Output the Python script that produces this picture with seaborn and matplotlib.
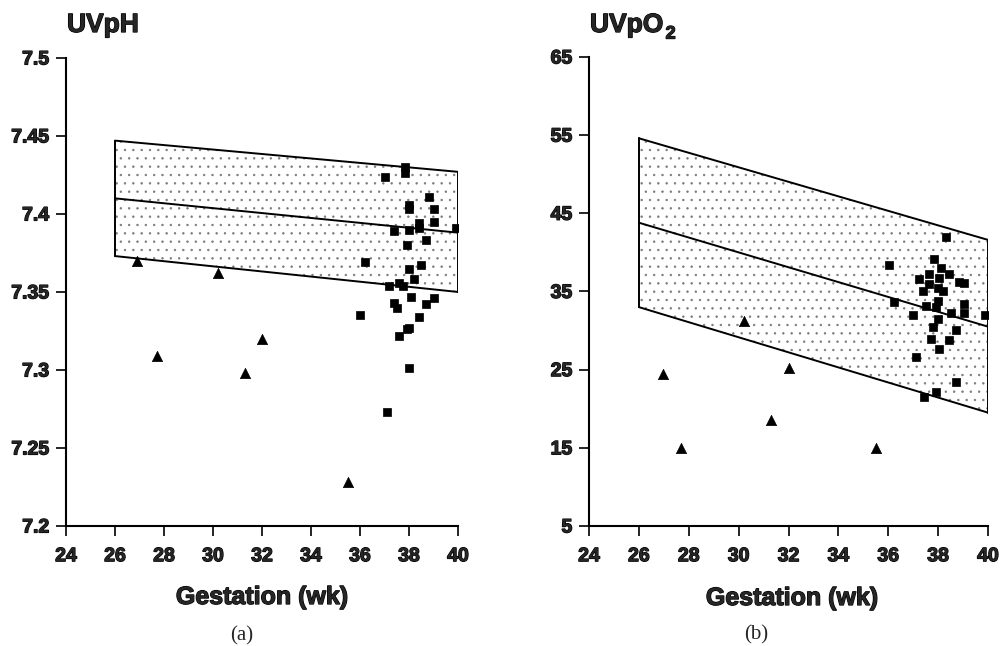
import numpy as np
import pandas as pd
import matplotlib
matplotlib.use("Agg")
import matplotlib.pyplot as plt
import matplotlib.patheffects as pe
import seaborn as sns

# ---------------- data ----------------
# Panel (a): umbilical venous pH
ph_sq_x = [37.0, 37.83, 37.83, 38.8, 38.0, 38.0, 39.0, 39.0, 38.4, 38.4, 38.0, 37.4,
           39.9, 38.7, 37.9, 36.2, 38.5, 38.0, 38.2, 37.6, 37.75, 37.2, 38.1, 39.0,
           38.7, 37.4, 37.5, 36.0, 38.4, 38.0, 37.9, 37.6, 38.0, 37.1]
ph_sq_y = [7.424, 7.430, 7.426, 7.411, 7.406, 7.403, 7.403, 7.395, 7.394, 7.391, 7.390, 7.389,
           7.391, 7.383, 7.380, 7.369, 7.367, 7.365, 7.358, 7.356, 7.354, 7.354, 7.347, 7.346,
           7.342, 7.343, 7.340, 7.335, 7.334, 7.327, 7.326, 7.322, 7.301, 7.273]
ph_tri_x = [26.9, 27.7, 30.2, 31.3, 32.0, 35.5]
ph_tri_y = [7.370, 7.309, 7.362, 7.298, 7.320, 7.228]
ph_band_x = [26, 40]
ph_band_hi = [7.447, 7.427]
ph_band_mid = [7.410, 7.388]
ph_band_lo = [7.373, 7.350]

# Panel (b): umbilical venous pO2
po2_sq_x = [38.31, 36.03, 37.83, 38.11, 38.43, 37.63, 37.23, 38.03, 38.84, 39.04, 37.63,
            37.39, 37.99, 38.19, 37.99, 36.23, 39.04, 37.51, 37.91, 38.51, 39.04, 36.99,
            39.88, 37.99, 37.79, 38.71, 37.71, 38.43, 38.03, 37.11, 38.71, 37.91, 37.43]
po2_sq_y = [42.0, 38.4, 39.2, 38.0, 37.2, 37.2, 36.6, 36.7, 36.2, 36.1, 36.0,
            35.1, 35.5, 35.0, 33.8, 33.7, 33.4, 33.2, 33.0, 32.3, 32.3, 32.0,
            32.0, 31.5, 30.5, 30.1, 28.9, 28.8, 27.7, 26.6, 23.4, 22.2, 21.5]
po2_tri_x = [26.97, 27.7, 30.2, 31.3, 32.0, 35.5]
po2_tri_y = [24.5, 15.0, 31.2, 18.6, 25.2, 15.0]
po2_band_x = [26, 40]
po2_band_hi = [54.6, 41.6]
po2_band_mid = [43.8, 30.5]
po2_band_lo = [33.0, 19.5]

x_ticks = [24, 26, 28, 30, 32, 34, 36, 38, 40]
ph_ticks = [7.2, 7.25, 7.3, 7.35, 7.4, 7.45, 7.5]
ph_labels = ["7.2", "7.25", "7.3", "7.35", "7.4", "7.45", "7.5"]
po2_ticks = [5, 15, 25, 35, 45, 55, 65]
po2_labels = ["5", "15", "25", "35", "45", "55", "65"]
xlabel = "Gestation (wk)"

# ---------------- style ----------------
sns.set_theme(style="ticks")
plt.rcParams["font.family"] = ["Liberation Sans", "DejaVu Sans"]
plt.rcParams["hatch.color"] = "#7a7a7a"
plt.rcParams["hatch.linewidth"] = 0.5

heavy = [pe.withStroke(linewidth=0.9, foreground="black")]

fig = plt.figure(figsize=(10, 6.46), dpi=100)
ax1 = fig.add_axes([0.066, 0.1858, 0.392, 0.7245])
ax2 = fig.add_axes([0.589, 0.1858, 0.399, 0.7260])


def draw(ax, bx, hi, mid, lo, sqx, sqy, trx, try_, yticks, ylabels, ylim):
    ax.fill_between(bx, lo, hi, facecolor="white", hatch="..", edgecolor="#7a7a7a",
                    linewidth=0, zorder=1)
    # outline of the band
    ax.plot(bx, hi, color="black", lw=1.4, zorder=2)
    ax.plot(bx, lo, color="black", lw=1.4, zorder=2)
    ax.plot(bx, mid, color="black", lw=1.4, zorder=2)
    ax.plot([bx[0], bx[0]], [lo[0], hi[0]], color="black", lw=1.4, zorder=2)
    ax.plot([bx[1], bx[1]], [lo[1], hi[1]], color="black", lw=1.4, zorder=2)
    sq = pd.DataFrame({"x": sqx, "y": sqy})
    tr = pd.DataFrame({"x": trx, "y": try_})
    sns.scatterplot(data=sq, x="x", y="y", ax=ax, marker="s", s=34, color="black",
                    edgecolor="black", linewidth=0.5, zorder=3)
    sns.scatterplot(data=tr, x="x", y="y", ax=ax, marker="^", s=55, color="black",
                    edgecolor="black", linewidth=0.5, zorder=3)
    ax.set_xlim(24, 40)
    ax.set_ylim(*ylim)
    ax.set_xticks(x_ticks)
    ax.set_xticklabels([str(t) for t in x_ticks])
    ax.set_yticks(yticks)
    ax.set_yticklabels(ylabels)
    ax.set_xlabel("")
    ax.set_ylabel("")
    for s in ["top", "right"]:
        ax.spines[s].set_visible(False)
    for s in ["left", "bottom"]:
        ax.spines[s].set_linewidth(1.5)
        ax.spines[s].set_color("black")
    ax.tick_params(axis="both", direction="out", length=7, width=1.2, color="black",
                   labelsize=14, pad=9)
    for lab in ax.get_xticklabels() + ax.get_yticklabels():
        lab.set_fontweight("bold")
        lab.set_path_effects(heavy)
    ax.tick_params(axis="y", pad=5)
    ax.set_facecolor("white")


draw(ax1, ph_band_x, ph_band_hi, ph_band_mid, ph_band_lo, ph_sq_x, ph_sq_y,
     ph_tri_x, ph_tri_y, ph_ticks, ph_labels, (7.2, 7.5))
draw(ax2, po2_band_x, po2_band_hi, po2_band_mid, po2_band_lo, po2_sq_x, po2_sq_y,
     po2_tri_x, po2_tri_y, po2_ticks, po2_labels, (5, 65))

# titles
fig.text(0.067, 1 - 25 / 646, "UVpH", fontsize=19, fontweight="bold", ha="left", va="center",
         path_effects=heavy)
t2 = fig.text(0.590, 1 - 25 / 646, "UVpO", fontsize=19, fontweight="bold", ha="left",
              va="center", path_effects=heavy)
ax2.annotate("2", xy=(1, 0), xycoords=t2, xytext=(1.5, -4), textcoords="offset points",
             fontsize=13, fontweight="bold", ha="left", va="bottom", annotation_clip=False,
             path_effects=heavy)

# x labels
fig.text(0.262, 1 - 597 / 646, xlabel, fontsize=18, fontweight="bold", ha="center",
         va="center", path_effects=heavy)
fig.text(0.792, 1 - 598 / 646, xlabel, fontsize=18, fontweight="bold", ha="center",
         va="center", path_effects=heavy)
fig.text(0.242, 1 - 636 / 646, "(a)", fontsize=15, family=["Liberation Serif", "DejaVu Serif"],
         ha="center", va="center")
fig.text(0.756, 1 - 635 / 646, "(b)", fontsize=15, family=["Liberation Serif", "DejaVu Serif"],
         ha="center", va="center")

fig.savefig("out.png", dpi=100, facecolor="white")
